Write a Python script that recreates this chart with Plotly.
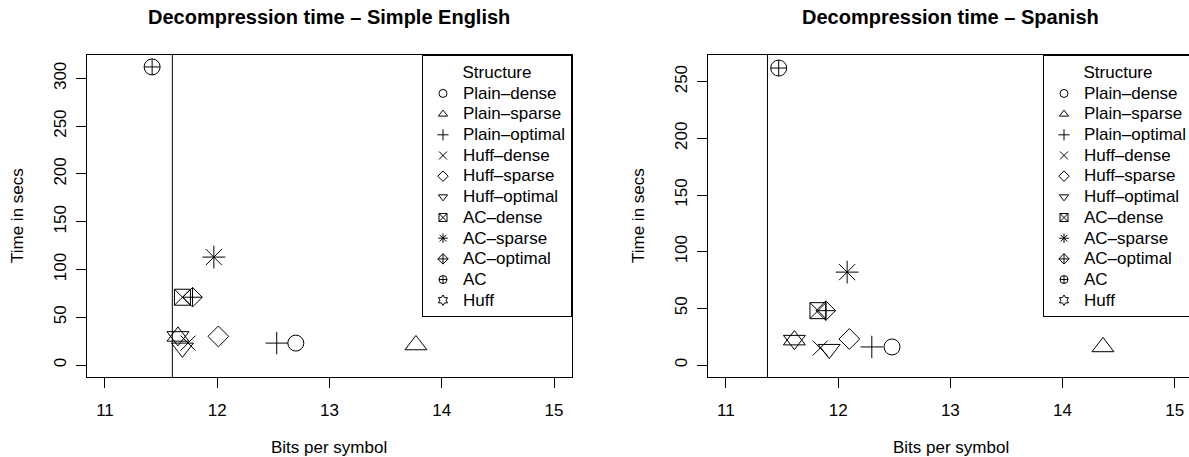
import plotly.graph_objects as go

# ---------------- data ----------------
structures = ["Plain–dense", "Plain–sparse", "Plain–optimal", "Huff–dense", "Huff–sparse",
              "Huff–optimal", "AC–dense", "AC–sparse", "AC–optimal", "AC", "Huff"]
symbols = ["circle-open", "triangle-up-open", "cross-thin-open", "x-thin-open", "diamond-open",
           "triangle-down-open", "square-x-open", "asterisk-open", "diamond-cross-open",
           "circle-cross-open", "hexagram-open"]
sizes = [16, 19, 16, 15, 16, 19, 16, 19, 15, 16, 19]

english_bits = [12.70, 13.77, 12.53, 11.74, 12.01, 11.69, 11.69, 11.97, 11.78, 11.42, 11.65]
english_time = [23, 21, 23, 23, 30, 18, 71, 113, 71, 312, 30]
english_line = 11.60

spanish_bits = [12.48, 14.36, 12.30, 11.84, 12.10, 11.92, 11.82, 12.08, 11.89, 11.47, 11.61]
spanish_time = [16, 16, 16, 15, 23, 14, 48, 82, 48, 262, 22]
spanish_line = 11.37

x_ticks = [11, 12, 13, 14, 15]
y_ticks_en = [0, 50, 100, 150, 200, 250, 300]
y_ticks_es = [0, 50, 100, 150, 200, 250]

W, H = 1189, 457
FONT = "Liberation Sans, Arial, Helvetica, sans-serif"
FS = 17

fig = go.Figure()

def big(t):
    return "<span style='font-size:%dpx'>%s</span>" % (FS, t)

panels = [
    ("x", "y", english_bits, english_time, "legend"),
    ("x2", "y2", spanish_bits, spanish_time, "legend2"),
]
for xa, ya, bits, times, leg in panels:
    for i, name in enumerate(structures):
        sym = symbols[i]
        if sym == "hexagram-open":
            # R pch 11: two overlapping triangles
            for s in ["triangle-up-open", "triangle-down-open"]:
                fig.add_trace(go.Scatter(
                    x=[bits[i]], y=[times[i]], xaxis=xa, yaxis=ya, mode="markers",
                    marker=dict(symbol=s, size=sizes[i], color="black",
                                line=dict(width=1, color="black")),
                    name=name, showlegend=False))
        else:
            fig.add_trace(go.Scatter(
                x=[bits[i]], y=[times[i]], xaxis=xa, yaxis=ya, mode="markers",
                marker=dict(symbol=sym, size=sizes[i], color="black",
                            line=dict(width=1, color="black")),
                name=name, showlegend=False))
        # legend entry (small symbol as in R's legend)
        fig.add_trace(go.Scatter(
            x=[None], y=[None], xaxis=xa, yaxis=ya, mode="markers",
            marker=dict(symbol=sym, size=8, color="black", line=dict(width=1, color="black")),
            name=big(name), legend=leg, showlegend=True))

# domains
xd1 = [87 / W, 572 / W]
xd2 = [708 / W, 1.0]
yd = [(H - 377) / H, (H - 55) / H]

def yr(top):
    return [-0.04 * top, top * 1.04]

axis_common = dict(showgrid=False, zeroline=False, showline=True, linecolor="black",
                   linewidth=1, mirror=True, ticks="outside", ticklen=10, tickcolor="black",
                   tickfont=dict(family=FONT, size=FS, color="black"))

fig.update_layout(
    xaxis=dict(domain=xd1, range=[10.84, 15.16], tickvals=x_ticks, anchor="y",
               ticklabelstandoff=8, **axis_common),
    yaxis=dict(domain=yd, range=yr(312), tickvals=y_ticks_en, tickangle=-90, anchor="x",
               ticklabelstandoff=3, **axis_common),
    xaxis2=dict(domain=xd2, range=[10.84, 10.84 + (1189 - 708) / 112.2], tickvals=x_ticks,
                anchor="y2", ticklabelstandoff=8, **axis_common),
    yaxis2=dict(domain=yd, range=yr(263), tickvals=y_ticks_es, tickangle=-90, anchor="x2",
                ticklabelstandoff=3, **axis_common),
    width=W, height=H,
    margin=dict(l=0, r=0, t=0, b=0, autoexpand=False),
    plot_bgcolor="white", paper_bgcolor="white",
    font=dict(family=FONT, size=13, color="black"),
    showlegend=True,
)

leg_common = dict(bordercolor="black", borderwidth=1, bgcolor="white",
                  font=dict(family=FONT, size=13.6, color="black"),
                  title=dict(text="Structure", side="top center",
                             font=dict(family=FONT, size=FS, color="black")),
                  yanchor="top", y=(H - 55) / H, tracegroupgap=0, itemwidth=30)
fig.update_layout(
    legend=dict(xanchor="right", x=572 / W, **leg_common),
    legend2=dict(xanchor="left", x=1043 / W, **leg_common),
)

# vertical reference lines
for xa, ya, xv in [("x", "y", english_line), ("x2", "y2", spanish_line)]:
    fig.add_shape(type="line", xref=xa, yref=ya + " domain", x0=xv, x1=xv, y0=0, y1=1,
                  line=dict(color="black", width=1), layer="below")

# titles
c1 = (87 + 572) / 2 / W
c2 = (708 + 1193) / 2 / W
titles = [("Decompression time – Simple English", c1), ("Decompression time – Spanish", c2)]
for t, xc in titles:
    fig.add_annotation(text="<b>%s</b>" % t, x=xc, y=1 - 17 / H, xref="paper", yref="paper",
                       showarrow=False, xanchor="center", yanchor="middle",
                       font=dict(family=FONT, size=20, color="black"))
for xc in [c1, c2]:
    fig.add_annotation(text="Bits per symbol", x=xc, y=1 - 447 / H, xref="paper", yref="paper",
                       showarrow=False, xanchor="center", yanchor="middle",
                       font=dict(family=FONT, size=FS, color="black"))
for xc in [17 / W, 638 / W]:
    fig.add_annotation(text="Time in secs", x=xc, y=1 - 216 / H, xref="paper", yref="paper",
                       showarrow=False, xanchor="center", yanchor="middle", textangle=-90,
                       font=dict(family=FONT, size=FS, color="black"))

fig.write_html("out.html", config={"displayModeBar": False},
               post_script="document.body.style.margin='0px';"
               "document.body.style.overflow='hidden';")
